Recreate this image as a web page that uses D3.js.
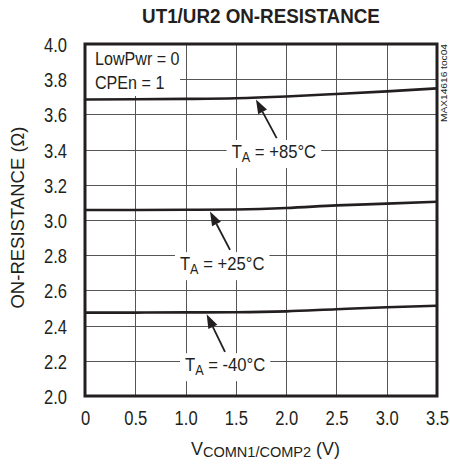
<!DOCTYPE html>
<html>
<head>
<meta charset="utf-8">
<script src="https://cdn.jsdelivr.net/npm/d3@7"></script>
<style>
  body { margin: 0; background: #fff; }
  text { font-family: 'Liberation Sans Narrow', 'Arial Narrow', 'Liberation Sans', Arial, sans-serif; fill: #231f20; }
</style>
</head>
<body>
<div id="chart"></div>
<script>
// data
const vComm = [0, 0.5, 1.0, 1.5, 2.0, 2.5, 3.0, 3.5];
const rHot = [3.685, 3.686, 3.688, 3.692, 3.702, 3.716, 3.731, 3.748];   // +85C
const rRoom = [3.057, 3.057, 3.058, 3.060, 3.068, 3.083, 3.093, 3.104];  // +25C
const rCold = [2.474, 2.474, 2.475, 2.476, 2.481, 2.493, 2.504, 2.513];  // -40C
const tempLabels = ["+85°C", "+25°C", "-40°C"];
const xTicks = [0, 0.5, 1.0, 1.5, 2.0, 2.5, 3.0, 3.5];
const yTicks = [2.0, 2.2, 2.4, 2.6, 2.8, 3.0, 3.2, 3.4, 3.6, 3.8, 4.0];
const legendLines = ["LowPwr = 0", "CPEn = 1"];

const svgWidth = 450;
const svgHeight = 464;
const margin = { top: 44, right: 13, bottom: 68, left: 85 };
const chartWidth = svgWidth - margin.left - margin.right;
const chartHeight = svgHeight - margin.top - margin.bottom;

// no narrow font here, so squeeze the glyphs a bit
function squeeze(sel, k) {
  sel.each(function() {
    const w = this.getComputedTextLength();
    d3.select(this).attr("textLength", w * k).attr("lengthAdjust", "spacingAndGlyphs");
  });
}

const svg = d3.select("#chart")
  .append("svg")
  .attr("width", svgWidth)
  .attr("height", svgHeight);

const chartGroup = svg.append("g")
  .attr("transform", `translate(${margin.left},${margin.top})`);

const xScale = d3.scaleLinear().domain([0, 3.5]).range([0, chartWidth]);
const yScale = d3.scaleLinear().domain([2.0, 4.0]).range([chartHeight, 0]);

// grid
const grid = chartGroup.append("g").attr("stroke", "#555").attr("stroke-width", 1);
grid.selectAll("line.v").data(xTicks.slice(1, -1)).enter().append("line")
  .attr("x1", d => Math.round(xScale(d)) + 0.5).attr("x2", d => Math.round(xScale(d)) + 0.5)
  .attr("y1", 0).attr("y2", chartHeight);
grid.selectAll("line.h").data(yTicks.slice(1, -1)).enter().append("line")
  .attr("x1", 0).attr("x2", chartWidth)
  .attr("y1", d => Math.round(yScale(d)) + 0.5).attr("y2", d => Math.round(yScale(d)) + 0.5);

// tick labels
const xAxis = d3.axisBottom(xScale).tickValues(xTicks).tickSize(0).tickPadding(15)
  .tickFormat(d => d === 0 ? "0" : d3.format(".1f")(d));
chartGroup.append("g").attr("transform", `translate(0,${chartHeight})`).call(xAxis)
  .call(g => g.select(".domain").remove())
  .selectAll("text").attr("font-size", 19.5).style("fill", "#231f20")
  .call(squeeze, 0.85);

const yAxis = d3.axisLeft(yScale).tickValues(yTicks).tickSize(0).tickPadding(18)
  .tickFormat(d3.format(".1f"));
chartGroup.append("g").call(yAxis)
  .call(g => g.select(".domain").remove())
  .selectAll("text").attr("font-size", 19.5).attr("dy", "0.38em").style("fill", "#231f20")
  .call(squeeze, 0.85);

// legend box
const legend = chartGroup.append("g");
legend.append("rect").attr("x", 0).attr("y", 0).attr("width", 95).attr("height", 52).attr("fill", "#fff");
legend.selectAll("text").data(legendLines).enter().append("text")
  .attr("x", 10).attr("y", (d, i) => 21 + i * 24)
  .attr("font-size", 18.5)
  .text(d => d)
  .call(squeeze, 0.87);

// curves
const line = d3.line().x(d => xScale(d[0])).y(d => yScale(d[1])).curve(d3.curveMonotoneX);
const series = [rHot, rRoom, rCold];
chartGroup.append("g").selectAll("path").data(series).enter().append("path")
  .attr("d", s => line(vComm.map((v, i) => [v, s[i]])))
  .attr("fill", "none").attr("stroke", "#231f20").attr("stroke-width", 2.6);

// annotations: label position (start, baseline) and arrow in data units
const notes = [
  { label: tempLabels[0], lx: 1.458, ly: 3.352, ax: 1.906, ay: 3.465, tip: 1.70, s: rHot },
  { label: tempLabels[1], lx: 0.944, ly: 2.715, ax: 1.442, ay: 2.830, tip: 1.243, s: rRoom },
  { label: tempLabels[2], lx: 0.994, ly: 2.141, ax: 1.392, ay: 2.251, tip: 1.210, s: rCold }
];
const interp = (s, v) => {
  const i = Math.min(Math.floor(v / 0.5), vComm.length - 2);
  const t = (v - vComm[i]) / 0.5;
  return s[i] + (s[i + 1] - s[i]) * t;
};

notes.forEach(n => {
  const g = chartGroup.append("g");
  const bg = g.append("rect").attr("fill", "#fff");
  const t = g.append("text")
    .attr("x", xScale(n.lx)).attr("y", yScale(n.ly))
    .attr("font-size", 18.5);
  t.append("tspan").text("T");
  t.append("tspan").attr("font-size", 14).attr("dy", 4).text("A");
  t.append("tspan").attr("dy", -4).text(" = " + n.label);
  t.call(squeeze, 0.9);
  const bb = t.node().getBBox();
  bg.attr("x", bb.x - 5).attr("y", bb.y - 1).attr("width", bb.width + 10).attr("height", bb.height + 4);

  const x0 = xScale(n.ax), y0 = yScale(n.ay);
  const x1 = xScale(n.tip), y1 = yScale(interp(n.s, n.tip)) + 2;
  const ang = Math.atan2(y1 - y0, x1 - x0);
  const headLen = 14, headW = 5;
  const bx = x1 - headLen * Math.cos(ang), by = y1 - headLen * Math.sin(ang);
  g.append("line").attr("x1", x0).attr("y1", y0).attr("x2", bx).attr("y2", by)
    .attr("stroke", "#231f20").attr("stroke-width", 1.8);
  g.append("path")
    .attr("d", `M${x1},${y1} L${bx + headW * Math.sin(ang)},${by - headW * Math.cos(ang)} L${bx - headW * Math.sin(ang)},${by + headW * Math.cos(ang)} Z`)
    .attr("fill", "#231f20");
});

// frame
chartGroup.append("rect").attr("x", 0).attr("y", 0).attr("width", chartWidth).attr("height", chartHeight)
  .attr("fill", "none").attr("stroke", "#231f20").attr("stroke-width", 3);

// title
svg.append("text").attr("x", 261).attr("y", 23).attr("text-anchor", "middle")
  .attr("font-size", 20).attr("font-weight", "bold").text("UT1/UR2 ON-RESISTANCE")
  .call(squeeze, 0.94);

// axis titles
const xTitle = svg.append("text").attr("x", 265.5).attr("y", 455).attr("text-anchor", "middle").attr("font-size", 18.5);
xTitle.append("tspan").text("V");
xTitle.append("tspan").attr("font-size", 15).attr("dy", 2).text("COMN1/COMP2");
xTitle.append("tspan").attr("dy", -2).text(" (V)");
xTitle.attr("textLength", 149).attr("lengthAdjust", "spacingAndGlyphs");

svg.append("text").attr("transform", "translate(23.5,217.5) rotate(-90)").attr("text-anchor", "middle")
  .attr("font-size", 18.5).text("ON-RESISTANCE (Ω)");

svg.append("text").attr("transform", "translate(447,44) rotate(-90)").attr("text-anchor", "end")
  .attr("font-size", 9.5).attr("textLength", 78).attr("lengthAdjust", "spacingAndGlyphs")
  .text("MAX14616 toc04");
</script>
</body>
</html>
